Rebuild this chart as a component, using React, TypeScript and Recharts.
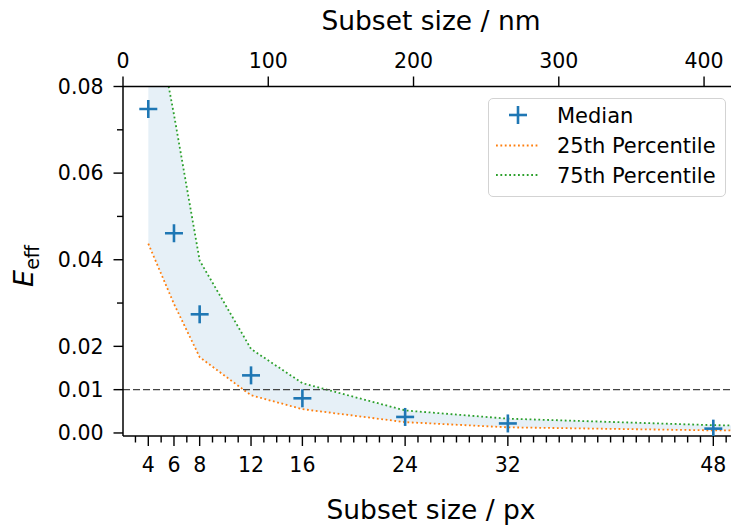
import React from 'react';
import { ComposedChart, Area, Line, XAxis, YAxis, ReferenceLine, Legend, Label } from 'recharts';

// subset size in px, with the percentile band
const pxSizes = [4, 6, 8, 12, 16, 24, 32, 48, 64];
const median = [0.0748, 0.0461, 0.0274, 0.0133, 0.008, 0.0037, 0.0022, 0.001, 0.0007];
const p25 = [0.0437, 0.0298, 0.0175, 0.0087, 0.0055, 0.0025, 0.0013, 0.0006, 0.0004];
const p75 = [0.105, 0.0735, 0.0398, 0.0194, 0.0115, 0.0052, 0.0033, 0.0018, 0.0012];

const pxTicks = [4, 6, 8, 12, 16, 24, 32, 48];
const nmTicks = [0, 100, 200, 300, 400];
const yMajorTicks = [0, 0.01, 0.02, 0.04, 0.06, 0.08];
const yMinorTicks = [0.03, 0.05, 0.07];

const X_MIN = 2.03;
const X_MAX = 50;
const NM_PER_PX = 8.84;

const pxMinorTicks = Array.from({ length: 47 }, (_, i) => i + 3).filter((t) => !pxTicks.includes(t));

const rows = pxSizes.map((px, i) => ({
  px,
  nm: (px - X_MIN) * NM_PER_PX,
  median: median[i],
  p25: p25[i],
  p75: p75[i],
  band: [p25[i], p75[i]],
}));

const FONT = '"DejaVu Sans", sans-serif';
const TICK_FONT = 20.5;
const LABEL_FONT = 26.5;
const BLUE = '#1f77b4';
const ORANGE = '#ff7f0e';
const GREEN = '#2ca02c';

const YTick = (props: any) => {
  const { x, y, payload } = props;
  const major = yMajorTicks.includes(payload.value);
  return (
    <g>
      <line x1={x} x2={x - (major ? 9.5 : 6)} y1={y} y2={y} stroke="#000" strokeWidth={1.4} />
      {major && (
        <text x={x - 19.5} y={y} dy="0.36em" textAnchor="end" fontSize={TICK_FONT} fontFamily={FONT} fill="#000">
          {payload.value.toFixed(2)}
        </text>
      )}
    </g>
  );
};

const BottomTick = (props: any) => {
  const { x, y, payload } = props;
  const major = pxTicks.includes(payload.value);
  return (
    <g>
      <line x1={x} x2={x} y1={y} y2={y + (major ? 10 : 6.5)} stroke="#000" strokeWidth={1.4} />
      {major && (
        <text x={x} y={y + 36} textAnchor="middle" fontSize={TICK_FONT} fontFamily={FONT} fill="#000">
          {payload.value}
        </text>
      )}
    </g>
  );
};

const TopTick = (props: any) => {
  const { x, y, payload } = props;
  return (
    <g>
      <line x1={x} x2={x} y1={y} y2={y - 10} stroke="#000" strokeWidth={1.4} />
      <text x={x} y={y - 18.5} textAnchor="middle" fontSize={TICK_FONT} fontFamily={FONT} fill="#000">
        {payload.value}
      </text>
    </g>
  );
};

const PlusDot = (props: any) => {
  const { cx, cy } = props;
  if (cx == null || cy == null) return null;
  return (
    <g key={`m-${cx}`}>
      <line x1={cx - 9} x2={cx + 9} y1={cy} y2={cy} stroke={BLUE} strokeWidth={2.6} />
      <line x1={cx} x2={cx} y1={cy - 9} y2={cy + 9} stroke={BLUE} strokeWidth={2.6} />
    </g>
  );
};

const LegendBox = () => (
  <div
    style={{
      position: 'relative',
      width: 238,
      height: 99,
      boxSizing: 'border-box',
      border: '1.5px solid #d3d3d3',
      borderRadius: 5,
      background: 'rgba(255,255,255,0.85)',
    }}
  >
    <svg width={238} height={99} style={{ position: 'absolute', left: -1.5, top: -1.5 }}>
      <line x1={21} x2={39} y1={18} y2={18} stroke={BLUE} strokeWidth={2.6} />
      <line x1={30} x2={30} y1={9} y2={27} stroke={BLUE} strokeWidth={2.6} />
      <line x1={8} x2={50} y1={48.5} y2={48.5} stroke={ORANGE} strokeWidth={1.8} strokeDasharray="1.8 2.6" />
      <line x1={8} x2={50} y1={78} y2={78} stroke={GREEN} strokeWidth={1.8} strokeDasharray="1.8 2.6" />
      <text x={69} y={18} dy="0.36em" fontSize={21} fontFamily={FONT}>Median</text>
      <text x={69} y={48.5} dy="0.36em" fontSize={21} fontFamily={FONT}>25th Percentile</text>
      <text x={69} y={78} dy="0.36em" fontSize={21} fontFamily={FONT}>75th Percentile</text>
    </svg>
  </div>
);

export default function App() {
  return (
    <div
      style={{
        position: 'fixed',
        left: 0,
        top: 0,
        width: 731,
        height: 526,
        overflow: 'hidden',
        background: '#fff',
      }}
    >
      <ComposedChart
        width={760}
        height={526}
        data={rows}
        margin={{ top: 0, right: 21, bottom: 0, left: 63 }}
      >
        <XAxis
          dataKey="px"
          type="number"
          domain={[X_MIN, X_MAX]}
          allowDataOverflow
          ticks={[...pxTicks, ...pxMinorTicks].sort((a, b) => a - b)}
          interval={0}
          tick={<BottomTick />}
          tickLine={false}
          tickSize={0}
          tickMargin={0}
          height={90}
          axisLine={{ stroke: '#000', strokeWidth: 1.5 }}
        >
          <Label
            content={() => (
              <text x={431} y={519} textAnchor="middle" fontSize={LABEL_FONT} fontFamily={FONT} fill="#000">
                Subset size / px
              </text>
            )}
          />
        </XAxis>
        <XAxis
          xAxisId="top"
          dataKey="nm"
          orientation="top"
          type="number"
          domain={[0, (X_MAX - X_MIN) * NM_PER_PX]}
          allowDataOverflow
          ticks={nmTicks}
          interval={0}
          tick={<TopTick />}
          tickLine={false}
          tickSize={0}
          tickMargin={0}
          height={86.5}
          axisLine={{ stroke: '#000', strokeWidth: 1.5 }}
        >
          <Label
            content={() => (
              <text x={431} y={30} textAnchor="middle" fontSize={LABEL_FONT} fontFamily={FONT} fill="#000">
                Subset size / nm
              </text>
            )}
          />
        </XAxis>
        <YAxis
          type="number"
          domain={[-0.0007, 0.08]}
          allowDataOverflow
          ticks={[...yMajorTicks, ...yMinorTicks].sort((a, b) => a - b)}
          interval={0}
          tick={<YTick />}
          tickLine={false}
          tickSize={0}
          tickMargin={0}
          width={60}
          axisLine={{ stroke: '#000', strokeWidth: 1.5 }}
        >
          <Label
            content={() => (
              <text
                x={33}
                y={266}
                transform="rotate(-90, 33, 266)"
                textAnchor="middle"
                fontSize={27}
                fontFamily={FONT}
                fill="#000"
              >
                <tspan fontStyle="italic">E</tspan>
                <tspan fontSize={19} dy={6}>eff</tspan>
              </text>
            )}
          />
        </YAxis>
        <Area
          dataKey="band"
          type="linear"
          stroke="none"
          fill={BLUE}
          fillOpacity={0.11}
          isAnimationActive={false}
          legendType="none"
        />
        <Line
          dataKey="p25"
          type="linear"
          stroke={ORANGE}
          strokeWidth={1.8}
          strokeDasharray="1.8 2.6"
          dot={false}
          isAnimationActive={false}
        />
        <Line
          dataKey="p75"
          type="linear"
          stroke={GREEN}
          strokeWidth={1.8}
          strokeDasharray="1.8 2.6"
          dot={false}
          isAnimationActive={false}
        />
        {/* invisible series that gives the nm axis its scale */}
        <Line
          xAxisId="top"
          dataKey="median"
          type="linear"
          stroke="none"
          dot={false}
          activeDot={false}
          legendType="none"
          isAnimationActive={false}
        />
        <ReferenceLine y={0.01} stroke="#444" strokeWidth={1.3} strokeDasharray="7 3" />
        <Line
          dataKey="median"
          type="linear"
          stroke="none"
          dot={<PlusDot />}
          activeDot={false}
          isAnimationActive={false}
        />
        <Legend
          layout="horizontal"
          align="center"
          verticalAlign="middle"
          content={() => <LegendBox />}
          wrapperStyle={{ position: 'absolute', left: 488, top: 97.5, width: 238, height: 99, bottom: 'auto' }}
        />
      </ComposedChart>
    </div>
  );
}
